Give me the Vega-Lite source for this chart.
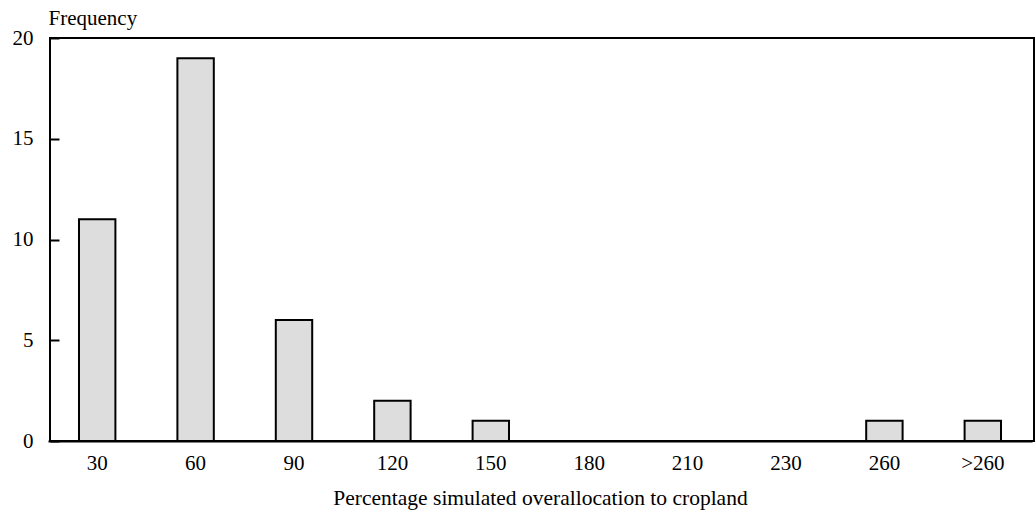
{
  "$schema": "https://vega.github.io/schema/vega-lite/v6.json",
  "autosize": {"type": "none"},
  "width": 984,
  "height": 403,
  "padding": {"left": 50, "top": 38, "right": 2, "bottom": 71},
  "background": "white",
  "config": {
    "font": "Liberation Serif",
    "view": {"stroke": "#000", "strokeWidth": 2},
    "axis": {"grid": false, "labelFont": "Liberation Serif", "titleFont": "Liberation Serif", "labelColor": "#000", "titleColor": "#000", "labelFontSize": 21, "titleFontSize": 21, "titleFontWeight": "normal", "domainColor": "#000", "domainWidth": 2, "tickColor": "#000", "tickWidth": 2}
  },
  "data": {
    "values": [
      {"bin": "30", "freq": 11},
      {"bin": "60", "freq": 19},
      {"bin": "90", "freq": 6},
      {"bin": "120", "freq": 2},
      {"bin": "150", "freq": 1},
      {"bin": "180", "freq": 0},
      {"bin": "210", "freq": 0},
      {"bin": "230", "freq": 0},
      {"bin": "260", "freq": 1},
      {"bin": ">260", "freq": 1}
    ]
  },
  "mark": {"type": "bar", "fill": "#dddddd", "stroke": "#000", "strokeWidth": 2},
  "encoding": {
    "x": {
      "field": "bin", "type": "nominal", "sort": null,
      "scale": {"paddingInner": 0.63, "paddingOuter": 0.315, "range": [-2, 982]},
      "axis": {"title": "Percentage simulated overallocation to cropland", "titleFontSize": 21.5, "labelAngle": 0, "ticks": false, "labelPadding": 11, "titlePadding": 14}
    },
    "y": {
      "field": "freq", "type": "quantitative",
      "scale": {"domain": [0, 20], "nice": false},
      "axis": {"title": "Frequency", "values": [0, 5, 10, 15, 20], "offset": -9, "domain": false, "tickSize": 9, "labelPadding": 17, "titleAngle": 0, "titleAlign": "left", "titleBaseline": "bottom", "titleX": -11, "titleY": -10}
    }
  }
}
